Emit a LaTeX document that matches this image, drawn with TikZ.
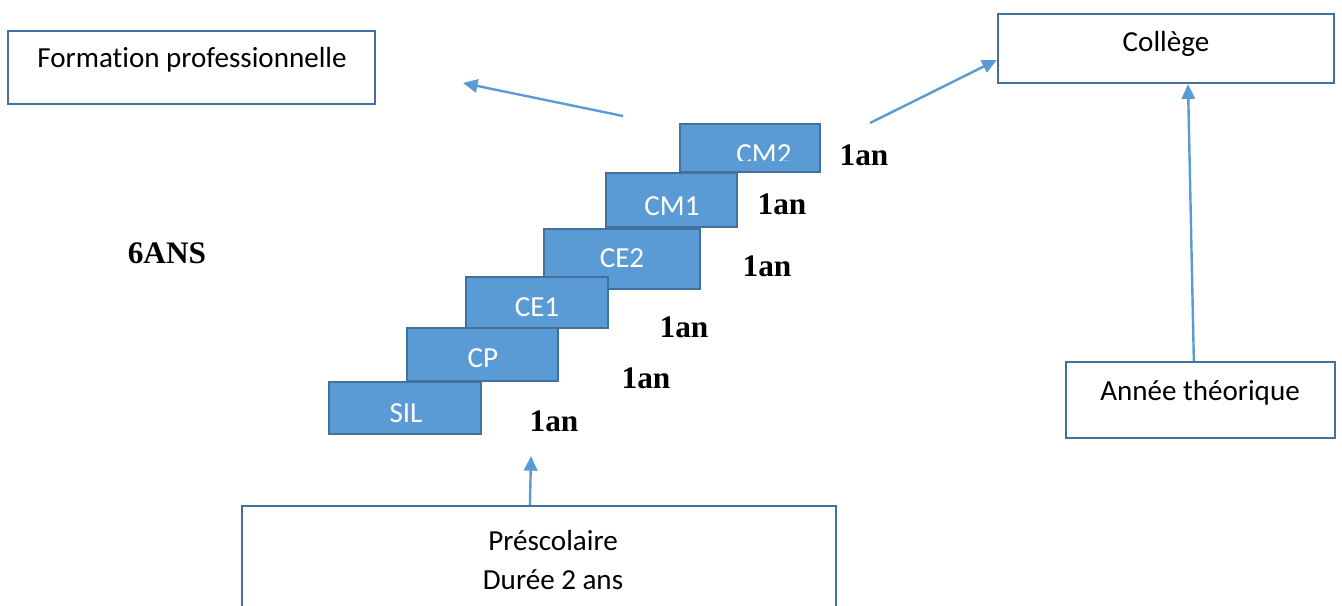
\documentclass[tikz,border=0pt]{standalone}
\usepackage{fontspec}
\setmainfont{Carlito}[RawFeature={-liga;-calt;-clig}]
\newfontfamily\tnr{Liberation Serif}
\usetikzlibrary{arrows.meta,fit}
\definecolor{bord}{HTML}{41719C}
\definecolor{stepfill}{HTML}{5B9BD5}
\definecolor{arr}{HTML}{5B9BD5}
\tikzset{
  box/.style={draw=bord, line width=1.8pt, fill=white, inner sep=0pt},
  stepbox/.style={draw=bord, line width=1.8pt, fill=stepfill, inner sep=0pt},
  lbl/.style={font=\fontsize{21.8}{26}\selectfont, text=black, inner sep=0pt},
  steplbl/.style={font=\fontsize{21.8}{26}\selectfont, text=white, inner sep=0pt},
  yr/.style={font=\tnr\bfseries\fontsize{23.5}{28}\selectfont, text=black, inner sep=0pt},
  conn/.style={draw=arr, line width=1.8pt, -{Triangle[length=11pt,width=10pt]}},
}
\begin{document}
\begin{tikzpicture}[x=0.75pt,y=-0.75pt]
\useasboundingbox (0,0) rectangle (1342,606);
\clip (0,0) rectangle (1342,606);
% boxes
\node[box, fit={(8,31) (375,104)}] (fp) {};
\node[lbl] (fpt) at (192,60) {Format\kern0pt ion professionnelle};
\node[box, fit={(998,14) (1334,83)}] (col) {};
\node[lbl] (colt) at (1166,44) {Collège};
\node[box, fit={(1066,362) (1335,438)}] (an) {};
\node[lbl] (ant) at (1200,393) {Année théorique};
\node[box, fit={(242,506) (836,630)}] (pre) {};
\node[lbl, align=center] (pret) at (553,560) {Préscolaire\\[3pt]Durée 2 ans};
% steps
\node[stepbox, fit={(680,124) (820,172)}] (cm2) {};
\begin{scope}
\clip (680,124) rectangle (820,161);
\node[steplbl] (cm2t) at (764,154) {CM2};
\end{scope}
\node[stepbox, fit={(606,173) (737,227)}] (cm1) {};
\node[steplbl] (cm1t) at (672,206) {CM1};
\node[stepbox, fit={(544,229) (700,289)}] (ce2) {};
\node[steplbl] (ce2t) at (622,258) {CE2};
\node[stepbox, fit={(466,277) (608,328)}] (ce1) {};
\node[steplbl] (ce1t) at (537,307) {CE1};
\node[stepbox, fit={(407,328) (558,381)}] (cp) {};
\node[steplbl] (cpt) at (483,358) {CP};
\node[stepbox, fit={(329,382) (481,434)}] (sil) {};
\node[steplbl] (silt) at (406,413) {SIL};
% durations
\node[yr] (y1) at (554,421) {1an};
\node[yr] (y2) at (646,378) {1an};
\node[yr] (y3) at (684,327) {1an};
\node[yr] (y4) at (767,266) {1an};
\node[yr] (y5) at (782,204) {1an};
\node[yr] (y6) at (864,155) {1an};
\node[yr] (six) at (167,253) {6ANS};
% connectors
\coordinate (s1) at (623,116);
\coordinate (e1) at (463,83);
\coordinate (s2) at (870,123);
\coordinate (e4) at (531,456);
\path[conn] (s1) -- (e1);
\path[conn] (s2) -- ([yshift=-8.6pt]col.west);
\path[conn] ([xshift=-5pt]an.north) -- ([xshift=16.5pt]col.south);
\path[conn] ([xshift=-6.8pt]pre.north) -- (e4);
\end{tikzpicture}
\end{document}
